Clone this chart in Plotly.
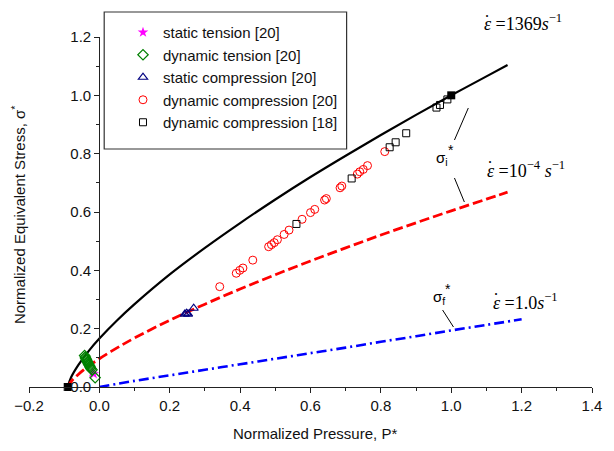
import plotly.graph_objects as go

# ---------------- data ----------------
curve_x = [-0.09, -0.08, -0.06, -0.03, 0.0, 0.05, 0.1, 0.2, 0.3, 0.4, 0.5, 0.6,
           0.7, 0.8, 0.9, 1.0, 1.1, 1.16]
sigma_i_1369 = [0.0, 0.034, 0.075, 0.124, 0.166, 0.228, 0.284, 0.386, 0.477, 0.562,
                0.643, 0.720, 0.793, 0.864, 0.933, 1.0, 1.065, 1.104]
sigma_i_1e4 = [0.0, 0.019, 0.043, 0.072, 0.097, 0.134, 0.168, 0.229, 0.284, 0.336,
               0.385, 0.432, 0.477, 0.521, 0.563, 0.604, 0.644, 0.668]

frac_x = [0.0, 0.1, 0.2, 0.3, 0.4, 0.5, 0.6, 0.7, 0.8, 0.9, 1.0, 1.1, 1.2]
sigma_f_1 = [0.0, 0.021, 0.040, 0.059, 0.078, 0.097, 0.116, 0.135, 0.155, 0.174,
             0.194, 0.213, 0.232]

st_tension_x = [-0.016, -0.020]
st_tension_y = [0.045, 0.050]

dyn_tension_x = [-0.042, -0.040, -0.039, -0.037, -0.036, -0.034, -0.033, -0.031,
                 -0.029, -0.027, -0.026, -0.024, -0.021, -0.012]
dyn_tension_y = [0.108, 0.103, 0.099, 0.095, 0.091, 0.087, 0.083, 0.079,
                 0.075, 0.071, 0.067, 0.063, 0.059, 0.032]

st_comp_x = [0.243, 0.248, 0.252, 0.268]
st_comp_y = [0.250, 0.253, 0.250, 0.270]

dyn_comp20_x = [0.342, 0.389, 0.399, 0.408, 0.436, 0.481, 0.489, 0.497, 0.506, 0.525,
                0.539, 0.576, 0.600, 0.612, 0.640, 0.645, 0.684, 0.689, 0.733, 0.740,
                0.750, 0.762, 0.811]
dyn_comp20_y = [0.344, 0.390, 0.400, 0.408, 0.435, 0.481, 0.488, 0.495, 0.505, 0.523,
                0.538, 0.575, 0.598, 0.609, 0.641, 0.646, 0.683, 0.689, 0.730, 0.738,
                0.746, 0.759, 0.807]

dyn_comp18_x = [0.560, 0.717, 0.825, 0.842, 0.872, 0.958, 0.968, 0.989]
dyn_comp18_y = [0.559, 0.715, 0.822, 0.839, 0.870, 0.958, 0.967, 0.986]

ref_points_x = [-0.09, 1.0]
ref_points_y = [0.0, 1.0]

x_ticks = [-0.2, 0.0, 0.2, 0.4, 0.6, 0.8, 1.0, 1.2, 1.4]
y_ticks = [0.0, 0.2, 0.4, 0.6, 0.8, 1.0, 1.2]

# ---------------- layout geometry ----------------
W, H = 614, 451
ML, MR, MT, MB = 29, 16, 37, 64
PW, PH = W - ML - MR, H - MT - MB


def pxx(px):
    return (px - ML) / PW


def pxy(py):
    return (H - MB - py) / PH


SANS = "Liberation Sans, Arial, sans-serif"
SERIF = "Liberation Serif, Times New Roman, serif"

fig = go.Figure()

fig.add_trace(go.Scatter(x=curve_x, y=sigma_i_1369, mode="lines", line_shape="spline",
                         line=dict(color="black", width=2.2), showlegend=False,
                         cliponaxis=False))
fig.add_trace(go.Scatter(x=curve_x, y=sigma_i_1e4, mode="lines", line_shape="spline",
                         line=dict(color="#ff0000", width=2.8, dash="10px,4px"),
                         showlegend=False, cliponaxis=False))
fig.add_trace(go.Scatter(x=frac_x, y=sigma_f_1, mode="lines", line_shape="spline",
                         line=dict(color="#0000ff", width=2.6, dash="10px,4px,2px,4px"),
                         showlegend=False, cliponaxis=False))

fig.add_trace(go.Scatter(x=st_tension_x, y=st_tension_y, mode="markers",
                         name="static tension [20]",
                         marker=dict(symbol="star", size=8, color="#ff00ff"),
                         cliponaxis=False))
fig.add_trace(go.Scatter(x=dyn_tension_x, y=dyn_tension_y, mode="markers",
                         name="dynamic tension [20]",
                         marker=dict(symbol="diamond-open", size=8, color="#008000",
                                     line=dict(width=1.2)),
                         cliponaxis=False))
fig.add_trace(go.Scatter(x=st_comp_x, y=st_comp_y, mode="markers",
                         name="static compression [20]",
                         marker=dict(symbol="triangle-up-open", size=8, color="#000080",
                                     line=dict(width=1.2)),
                         cliponaxis=False))
fig.add_trace(go.Scatter(x=dyn_comp20_x, y=dyn_comp20_y, mode="markers",
                         name="dynamic compression [20]",
                         marker=dict(symbol="circle-open", size=8, color="#ff0000",
                                     line=dict(width=1)),
                         cliponaxis=False))
fig.add_trace(go.Scatter(x=dyn_comp18_x, y=dyn_comp18_y, mode="markers",
                         name="dynamic compression [18]",
                         marker=dict(symbol="square-open", size=7, color="black",
                                     line=dict(width=1)),
                         cliponaxis=False))
fig.add_trace(go.Scatter(x=ref_points_x, y=ref_points_y, mode="markers",
                         marker=dict(symbol="square", size=8, color="black"),
                         showlegend=False, cliponaxis=False))

axis_common = dict(showgrid=False, zeroline=False, showline=True, linecolor="#222",
                   linewidth=1.3, ticks="outside", ticklen=5, tickwidth=1.2,
                   tickcolor="#222", tickformat=".1f",
                   tickfont=dict(family=SANS, size=15, color="#111"),
                   minor=dict(ticks="outside", ticklen=3, tickwidth=1.1,
                              tickcolor="#222", dtick=0.1))

fig.update_layout(
    width=W, height=H,
    margin=dict(l=ML, r=MR, t=MT, b=MB, pad=0),
    paper_bgcolor="white", plot_bgcolor="white",
    font=dict(family=SANS, size=15, color="#111"),
    xaxis=dict(range=[-0.2, 1.4], tickvals=x_ticks, **axis_common),
    yaxis=dict(range=[0.0, 1.2], tickvals=y_ticks, anchor="free",
               position=(0.0 - (-0.2)) / 1.6, **axis_common),
    legend=dict(x=pxx(124), y=pxy(16), xanchor="left", yanchor="top",
                bgcolor="rgba(0,0,0,0)", borderwidth=0,
                font=dict(family=SANS, size=15, color="#111")),
    showlegend=True,
)

shapes = [
    # legend frame
    dict(type="rect", xref="paper", yref="paper", x0=pxx(105), x1=pxx(350),
         y0=pxy(149), y1=pxy(12), line=dict(color="#333", width=1.2)),
    # pointer lines
    dict(type="line", xref="paper", yref="paper", x0=pxx(473), y0=pxy(108),
         x1=pxx(459), y1=pxy(140), line=dict(color="black", width=1)),
    dict(type="line", xref="paper", yref="paper", x0=pxx(459), y0=pxy(178),
         x1=pxx(469), y1=pxy(202), line=dict(color="black", width=1)),
    dict(type="line", xref="paper", yref="paper", x0=pxx(447), y0=pxy(310),
         x1=pxx(458), y1=pxy(327), line=dict(color="black", width=1)),
]
fig.update_layout(shapes=shapes)

EPS = "<i>\u03b5</i>"
DOT = "\u02d9"
rate_labels = [
    (f"{EPS} =1369<i>s</i><sup>\u22121</sup>", 487, 23),
    (f"{EPS} =10<sup>\u22124</sup> <i>s</i><sup>\u22121</sup>", 490, 169),
    (f"{EPS} =1.0<i>s</i><sup>\u22121</sup>", 496, 301),
]
annotations = []
for txt, x0, yc in rate_labels:
    annotations.append(dict(text=txt, x=pxx(x0), y=pxy(yc), xanchor="left",
                            font=dict(family=SERIF, size=18, color="black")))
    annotations.append(dict(text=DOT, x=pxx(x0 + 5), y=pxy(yc - 1), xanchor="center",
                            font=dict(family=SERIF, size=18, color="black")))

annotations += [
    dict(text="\u03c3<sub>i</sub>", x=pxx(446), y=pxy(158), xanchor="center",
         font=dict(family=SANS, size=15, color="black")),
    dict(text="*", x=pxx(455), y=pxy(150), xanchor="center",
         font=dict(family=SANS, size=14, color="black")),
    dict(text="\u03c3<sub>f</sub>", x=pxx(443), y=pxy(297), xanchor="center",
         font=dict(family=SANS, size=15, color="black")),
    dict(text="*", x=pxx(452), y=pxy(289), xanchor="center",
         font=dict(family=SANS, size=14, color="black")),
    dict(text="Normalized Pressure, P*", x=pxx(318), y=pxy(433), xanchor="center",
         font=dict(family=SANS, size=15, color="#111")),
    dict(text="Normalized Equivalent Stress, \u03c3<sup>*</sup>", x=pxx(18), y=pxy(215),
         xanchor="center", textangle=-90, font=dict(family=SANS, size=15, color="#111")),
]
for a in annotations:
    a.update(xref="paper", yref="paper", showarrow=False, yanchor="middle")
fig.update_layout(annotations=annotations)

fig.write_html("out.html")
